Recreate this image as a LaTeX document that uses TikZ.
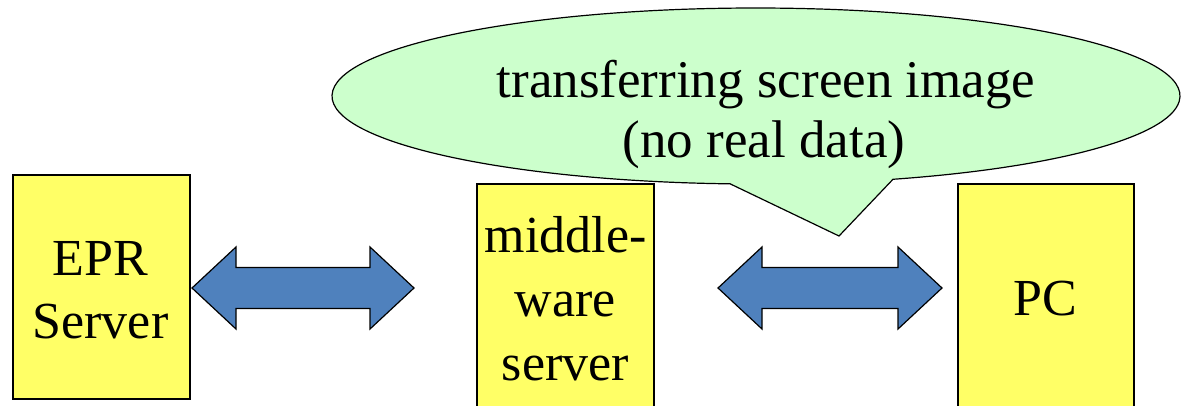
\documentclass[tikz,border=0pt]{standalone}
\usepackage{fontspec}
\setmainfont{Liberation Serif}
\usetikzlibrary{calc}

\definecolor{boxyellow}{HTML}{FFFF66}
\definecolor{bubblegreen}{HTML}{CCFFCC}
\definecolor{arrowblue}{HTML}{4F81BD}

\newcommand\boxsize{\fontsize{52}{62}\selectfont}
\newcommand\bubblesize{\fontsize{53}{62}\selectfont}

\tikzset{
  box/.style={draw=black, line width=1.2pt, fill=boxyellow, rectangle,
    inner sep=0pt, outer sep=0pt, minimum width=177pt},
  boxtext/.style={anchor=base, inner sep=0pt},
  bubble/.style={draw=black, line width=1.2pt, fill=bubblegreen, line join=miter},
  fat/.style={draw=black, line width=1.2pt, fill=arrowblue, line join=miter},
}

% fat double-headed arrow between two named tip coordinates
\newcommand\fatarrow[2]{%
  \path[fat] (#1)
    -- ++(44,-41) -- ++(0,20.5) -- ($(#2)+(-44,-20.5)$) -- ++(0,-20.5)
    -- (#2)
    -- ++(-44,41) -- ++(0,-20.5) -- ($(#1)+(44,20.5)$) -- ++(0,20.5)
    -- cycle;%
}

\begin{document}
\begin{tikzpicture}[x=1pt, y=-1pt]
  \useasboundingbox (0,0) rectangle (1182,405);
  \clip (0,0) rectangle (1182,405);

  % speech bubble with its pointer
  \coordinate (bubblecentre) at (756,96);
  \coordinate (bubbletip) at (839,236);
  \path[bubble] (bubblecentre) ++(93.5:424 and 88)
    arc[start angle=93.5, end angle=431.15, x radius=424, y radius=88]
    -- (bubbletip) -- cycle;
  \node[boxtext] (bubble1) at (766,97) {\bubblesize transferring screen image};
  \node[boxtext] (bubble2) at (764,157) {\bubblesize (no real data)};

  % the three machines
  \node[box, minimum height=224pt] (epr) at (101.5,287) {};
  \node[boxtext] (epr1) at (100.5,275) {\boxsize EPR};
  \node[boxtext] (epr2) at (100.5,338) {\boxsize Server};

  \node[box, minimum height=256pt] (mw) at (565.5,312) {};
  \node[boxtext] (mw1) at (565.5,252) {\boxsize middle-};
  \node[boxtext] (mw2) at (565.5,316) {\boxsize ware};
  \node[boxtext] (mw3) at (565.5,380) {\boxsize server};

  \node[box, minimum width=176pt, minimum height=256pt] (pc) at (1046,312) {};
  \node[boxtext] (pc1) at (1045,315) {\boxsize PC};

  % two-way links
  \coordinate (l1) at ($(epr.east)+(2,1)$);
  \coordinate (l2) at (414,288);
  \coordinate (r1) at (718,288);
  \coordinate (r2) at (942,288);
  \fatarrow{l1}{l2}
  \fatarrow{r1}{r2}
\end{tikzpicture}
\end{document}
